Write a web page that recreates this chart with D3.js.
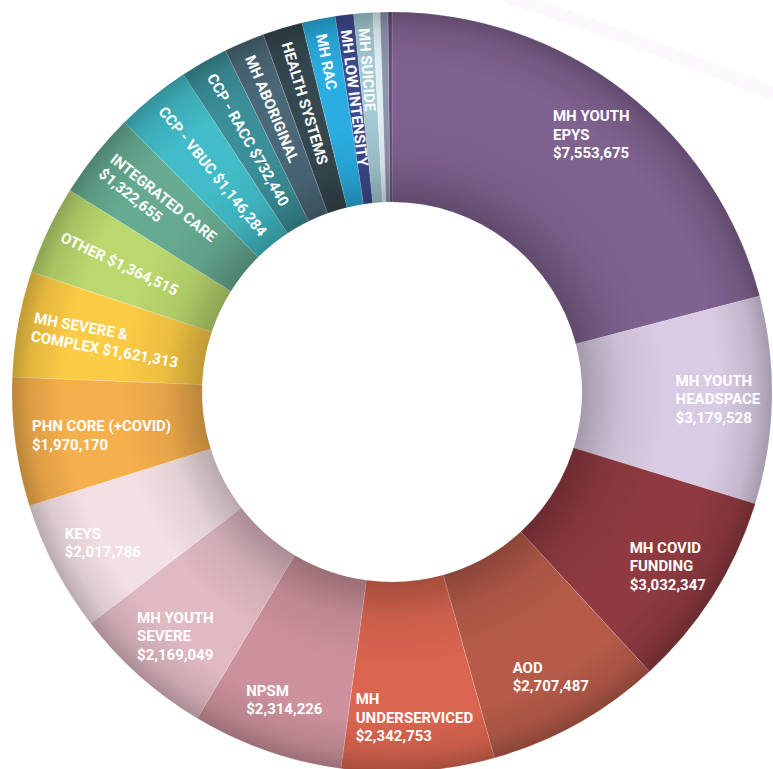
<!DOCTYPE html>
<html>
<head>
<meta charset="utf-8">
<script src="https://cdn.jsdelivr.net/npm/d3@7"></script>
<style>
  body { margin: 0; background: #fff; }
  svg { display: block; }
  text { font-family: Roboto, "Noto Sans", sans-serif; font-weight: 700; fill: #fff; }
</style>
</head>
<body>
<script>
  // slice labels ("|" = line break, "$" = amount)
  const labels = [
    "MH YOUTH|EPYS|$", "MH YOUTH|HEADSPACE|$", "MH COVID|FUNDING|$", "AOD|$",
    "MH|UNDERSERVICED|$", "NPSM|$", "MH YOUTH|SEVERE|$", "KEYS|$",
    "PHN CORE (+COVID)|$", "MH SEVERE &|COMPLEX $", "OTHER $", "INTEGRATED CARE|$",
    "CCP - VBUC $", "CCP - RACC $", "MH ABORIGINAL", "HEALTH SYSTEMS",
    "MH RAC", "MH LOW INTENSITY", "MH SUICIDE", "", "", ""
  ];
  const amounts = [
    7553675, 3179528, 3032347, 2707487,
    2342753, 2314226, 2169049, 2017786,
    1970170, 1621313, 1364515, 1322655,
    1146284, 732440, 622000, 612000,
    511000, 281000, 291000, 110000, 120000, 60000
  ];
  const colors = [
    "#806290", "#d9cbe3", "#8e3a40", "#b65b49",
    "#da6550", "#cc919c", "#e0b9c2", "#f3e0e4",
    "#f6af4d", "#fccb45", "#bad86d", "#66ab91",
    "#42bcc8", "#3b8f98", "#4b6878", "#35474f",
    "#2aaee2", "#3c4a8e", "#a3c9d4", "#dff0f4", "#8e93b0", "#5f4a70"
  ];

  const width = 773, height = 769;
  const cx = 392, cy = 392, rOuter = 380, rInner = 190;
  const fmt = d3.format("$,");

  const svg = d3.select("body").append("svg")
    .attr("width", width)
    .attr("height", height);

  // faint decorative swoosh, top right
  svg.append("path")
    .attr("d", "M505,-4 Q640,40 790,100")
    .attr("fill", "none")
    .attr("stroke", "#fbf9fb")
    .attr("stroke-width", 14);

  // tube shading: darker at the inner and outer rims
  let grad = svg.append("defs").append("radialGradient")
    .attr("id", "shade")
    .attr("gradientUnits", "userSpaceOnUse")
    .attr("cx", 0).attr("cy", 0).attr("r", rOuter);
  [[0.5, 0.24], [0.6, 0.07], [0.72, 0], [0.86, 0], [0.95, 0.1], [1, 0.24]].forEach((s) => {
    grad.append("stop")
      .attr("offset", s[0])
      .attr("stop-color", "#000")
      .attr("stop-opacity", s[1]);
  });

  const rows = amounts.map((v, i) => ({ value: v, label: labels[i], color: colors[i] }));

  const pie = d3.pie().sort(null).value((d) => d.value);
  const arc = d3.arc().innerRadius(rInner).outerRadius(rOuter);
  const arcs = pie(rows);

  const g = svg.append("g").attr("transform", `translate(${cx},${cy})`);

  g.selectAll(".slice")
    .data(arcs)
    .enter()
    .append("path")
      .attr("class", "slice")
      .attr("d", arc)
      .attr("fill", (d) => d.data.color)
      .attr("stroke", "rgba(255,255,255,0.3)")
      .attr("stroke-width", 0.6);

  g.append("path")
    .attr("d", arc({ startAngle: 0, endAngle: 2 * Math.PI }))
    .attr("fill", "url(#shade)")
    .style("pointer-events", "none");

  const lh = 18.5, cap = 11, fs = 15;

  arcs.forEach((d) => {
    if (!d.data.label) return;
    let lines = d.data.label.replace("$", fmt(d.data.value)).split("|");
    let mid = (d.startAngle + d.endAngle) / 2;
    let deg = mid * 180 / Math.PI;
    let n = lines.length;

    if (deg > 275) {
      // labels on the upper left run along the slice, toward the centre
      let r = 365;
      let x = cx + r * Math.sin(mid), y = cy - r * Math.cos(mid);
      let t = svg.append("g")
        .attr("transform", `translate(${x},${y}) rotate(${deg - 270})`);
      lines.forEach((l, i) => {
        t.append("text")
          .attr("x", 0)
          .attr("y", (i - (n - 1) / 2) * lh + cap / 2)
          .style("font-size", fs + "px")
          .text(l);
      });
    } else {
      let r = 326;
      let x = cx + r * Math.sin(mid), y = cy - r * Math.cos(mid);
      let t = svg.append("g");
      let texts = lines.map((l, i) => t.append("text")
        .attr("y", y + (i - (n - 1) / 2) * lh + cap / 2)
        .style("font-size", fs + "px")
        .text(l));
      let w = d3.max(texts, (s) => s.node().getComputedTextLength());
      let left = Math.max(32, x - w / 2);
      texts.forEach((s) => s.attr("x", left));
    }
  });
</script>
</body>
</html>
